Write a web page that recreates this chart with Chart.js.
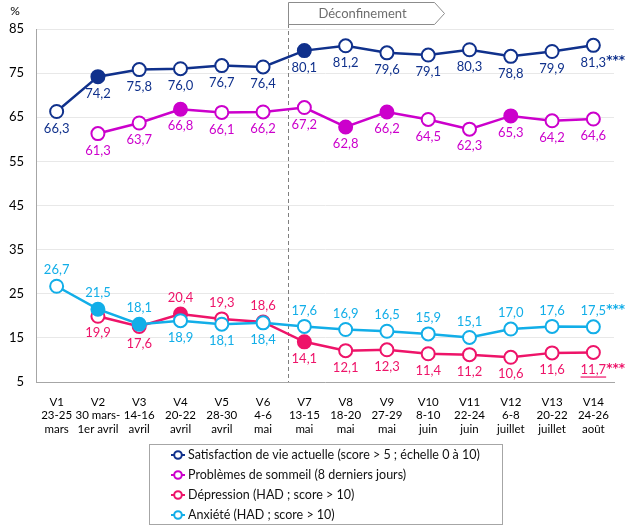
<!DOCTYPE html>
<html><head><meta charset="utf-8">
<script src="https://cdn.jsdelivr.net/npm/chart.js@4.4.0/dist/chart.umd.min.js"></script>
<style>html,body{margin:0;padding:0;background:#fff;}#wrap{width:632px;height:531px;position:relative;}</style>
</head><body><div id="wrap"><canvas id="c"></canvas></div>
<script>
const categories = [
  ["V1","23-25","mars"],["V2","30 mars-","1er avril"],["V3","14-16","avril"],["V4","20-22","avril"],
  ["V5","28-30","avril"],["V6","4-6","mai"],["V7","13-15","mai"],["V8","18-20","mai"],
  ["V9","27-29","mai"],["V10","8-10","juin"],["V11","22-24","juin"],["V12","6-8","juillet"],
  ["V13","20-22","juillet"],["V14","24-26","août"]
];
const seriesNames = [
  "Satisfaction de vie actuelle (score > 5 ; échelle 0 à 10)",
  "Problèmes de sommeil (8 derniers jours)",
  "Dépression (HAD ; score > 10)",
  "Anxiété (HAD ; score > 10)"
];
const satisfaction = [66.3,74.2,75.8,76.0,76.7,76.4,80.1,81.2,79.6,79.1,80.3,78.8,79.9,81.3];
const sommeil = [null,61.3,63.7,66.8,66.1,66.2,67.2,62.8,66.2,64.5,62.3,65.3,64.2,64.6];
const depression = [null,19.9,17.6,20.4,19.3,18.6,14.1,12.1,12.3,11.4,11.2,10.6,11.6,11.7];
const anxiete = [26.7,21.5,18.1,18.9,18.1,18.4,17.6,16.9,16.5,15.9,15.1,17.0,17.6,17.5];
const satFilled = [1,6];
const sommeilFilled = [3,7,8,11];
const depFilled = [3,6];
const anxFilled = [1,2];
const lastSuffix = ["***","","***","***"];
const yTicks = [5,15,25,35,45,55,65,75,85];
const annotationText = "Déconfinement";

const FONT = "Lato, 'Open Sans', sans-serif";
const COLORS = ['#10318C','#CC00CC','#EE1469','#12AEE8'];
const B='b', A='a';
const labelPos = [
  [B,B,B,B,B,B,B,B,B,B,B,B,B,B],
  [B,B,B,B,B,B,B,B,B,B,B,B,B,B],
  [B,B,B,A,A,A,B,B,B,B,B,B,B,B],
  [A,A,A,B,B,B,A,A,A,A,A,A,A,A]
];
const underlineLast = [false,false,true,false];

function mkDs(i, data, filledIdx, order){
  return {
    label: seriesNames[i], data, order,
    borderColor: COLORS[i], borderWidth: 2.5,
    pointRadius: 6.5, pointHoverRadius: 6.5, pointBorderWidth: 2,
    pointBorderColor: COLORS[i],
    pointBackgroundColor: data.map((v,k)=> filledIdx.includes(k) ? COLORS[i] : '#fff'),
    tension: 0, spanGaps: false
  };
}

const fmt = v => v.toFixed(1).replace('.', ',');

const labelPlugin = {
  id:'labels',
  afterDatasetsDraw(chart){
    const ctx = chart.ctx;
    ctx.save();
    ctx.textBaseline = 'middle';
    chart.data.datasets.forEach((ds, di) => {
      const meta = chart.getDatasetMeta(di);
      meta.data.forEach((el, k) => {
        const v = ds.data[k];
        if (v === null || v === undefined) return;
        const t = fmt(v);
        const y = el.y + (labelPos[di][k] === 'a' ? -16 : 17);
        ctx.font = "13px " + FONT;
        ctx.fillStyle = COLORS[di];
        ctx.textAlign = 'center';
        ctx.fillText(t, el.x, y);
        const w = ctx.measureText(t).width;
        if (k === ds.data.length - 1) {
          if (underlineLast[di]) {
            ctx.fillRect(el.x - w/2, y + 7, w, 1.2);
          }
          if (lastSuffix[di]) {
            ctx.font = "bold 12px 'DejaVu Sans', sans-serif";
            ctx.textAlign = 'left';
            ctx.fillText(lastSuffix[di], el.x + w/2, y - 1);
          }
        }
      });
    });
    ctx.restore();
  }
};

const decoPlugin = {
  id:'deco',
  beforeDatasetsDraw(chart){
    const ctx = chart.ctx, xs = chart.scales.x, ys = chart.scales.y;
    const p5 = xs.getPixelForValue(5), p6 = xs.getPixelForValue(6);
    const x = Math.round(p5 + 0.6*(p6-p5)) + 0.5;
    ctx.save();
    ctx.strokeStyle = '#7F7F7F'; ctx.lineWidth = 1; ctx.setLineDash([4,3]);
    ctx.beginPath(); ctx.moveTo(x, 24); ctx.lineTo(x, ys.bottom); ctx.stroke();
    ctx.setLineDash([]);
    ctx.fillStyle = '#fff';
    ctx.strokeStyle = '#8C8C8C';
    ctx.beginPath();
    ctx.moveTo(x, 2.5); ctx.lineTo(x+146, 2.5); ctx.lineTo(x+156, 13.5); ctx.lineTo(x+146, 24.5); ctx.lineTo(x, 24.5); ctx.closePath();
    ctx.fill(); ctx.stroke();
    ctx.fillStyle = '#6E6E6E'; ctx.font = "13px " + FONT; ctx.textAlign='center'; ctx.textBaseline='middle';
    ctx.fillText(annotationText, x + 74, 14);
    ctx.restore();
  },
  afterDraw(chart){
    const ctx = chart.ctx;
    ctx.save();
    ctx.fillStyle = '#000'; ctx.font = "12px " + FONT; ctx.textAlign='center'; ctx.textBaseline='middle';
    ctx.fillText('%', 15, 11);
    ctx.strokeStyle = '#A6A6A6'; ctx.lineWidth = 1;
    ctx.strokeRect(149.5, 444.5, 353, 80);
    ctx.font = "12.5px " + FONT; ctx.textAlign='left';
    seriesNames.forEach((n, i) => {
      const y = 455 + i*20;
      ctx.strokeStyle = COLORS[i]; ctx.lineWidth = 2;
      ctx.beginPath(); ctx.moveTo(171, y); ctx.lineTo(185, y); ctx.stroke();
      ctx.beginPath(); ctx.arc(178, y, 3.8, 0, Math.PI*2); ctx.fillStyle='#fff'; ctx.fill(); ctx.stroke();
      ctx.fillStyle = '#111';
      ctx.fillText(n, 188, y);
    });
    ctx.restore();
  }
};

new Chart(document.getElementById('c'), {
  type:'line',
  data:{
    labels: categories,
    datasets:[
      mkDs(0, satisfaction, satFilled, 3),
      mkDs(1, sommeil, sommeilFilled, 2),
      mkDs(2, depression, depFilled, 1),
      mkDs(3, anxiete, anxFilled, 0)
    ]
  },
  options:{
    responsive:true, maintainAspectRatio:false, animation:false,
    layout:{ padding:{ top:29, right:18, bottom:89, left:0 } },
    plugins:{ legend:{display:false}, tooltip:{enabled:false} },
    scales:{
      x:{
        offset:true,
        grid:{ display:false },
        border:{ display:true, color:'#A6A6A6', width:1 },
        ticks:{ color:'#000', font:{ size:11.5, family:FONT }, padding:5, maxRotation:0, autoSkip:false },
        afterFit(s){ s.height = 60; }
      },
      y:{
        min:5, max:85,
        afterBuildTicks(s){ s.ticks = yTicks.map(v=>({value:v})); },
        grid:{ color:'#E8E8E8', drawTicks:false },
        border:{ display:true, color:'#A6A6A6', width:1 },
        ticks:{ color:'#000', font:{ size:13, family:FONT }, padding:12 },
        afterFit(s){ s.width = 36; }
      }
    }
  },
  plugins:[decoPlugin, labelPlugin]
});
</script></body></html>
